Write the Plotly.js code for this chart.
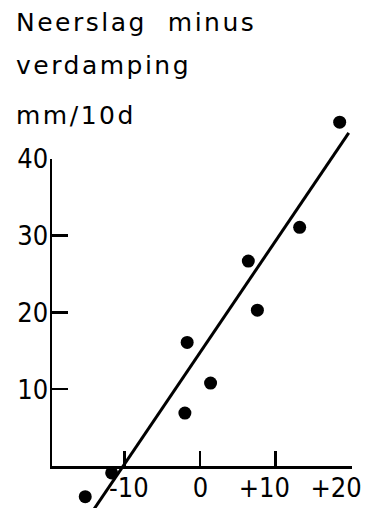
<!DOCTYPE html>
<html>
<head>
<meta charset="utf-8">
<script src="https://cdn.plot.ly/plotly-3.0.1.min.js"></script>
<style>
html,body{margin:0;padding:0;background:#fff;}
#chart{width:371px;height:508px;}
.annotation-text{letter-spacing:2.5px;}
</style>
</head>
<body>
<div id="chart"></div>
<script>
// Data
const xVals = [-15.2, -11.7, -2.0, -1.7, 1.4, 6.4, 7.6, 13.2, 18.5];
const yVals = [-4.0, -0.9, 6.9, 16.1, 10.8, 26.7, 20.3, 31.1, 44.8];
const fitX = [-14.3, 19.7];
const fitY = [-6.0, 43.4];
const xTickVals = [-10, 0, 10, 20];
const xTickText = ['\u00a0\u00a0\u00a0\u00a0\u00a0-10', '\u00a0\u00a0\u00a0\u00a00', '\u00a0+10', '+20'];
const yTickVals = [10, 20, 30, 40];
const yTickText = ['10', '20', '30', '40'];
const titleLines = ['Neerslag\u00a0\u00a0minus', 'verdamping', 'mm/10d'];

const W = 371, H = 508;
const PX = 7.675;   // px per y unit
const tickFont = {family: 'DejaVu Sans Condensed, DejaVu Sans, sans-serif', size: 27, color: '#000'};
const titleFont = {family: 'DejaVu Sans, sans-serif', size: 25, color: '#000'};

const traces = [
  {
    x: fitX, y: fitY, type: 'scatter', mode: 'lines',
    xaxis: 'x', yaxis: 'y',
    line: {color: '#000', width: 3},
    hoverinfo: 'skip'
  },
  {
    x: xVals, y: yVals, type: 'scatter', mode: 'markers',
    xaxis: 'x', yaxis: 'y',
    marker: {color: '#000', size: 13}
  },
  // empty trace so the visible 0–40 axis pair is drawn (on top)
  {x: [], y: [], type: 'scatter', mode: 'markers', xaxis: 'x', yaxis: 'y2', hoverinfo: 'skip'}
];

const titleY = [22, 65, 115];
const annotations = titleLines.map((t, i) => ({
  text: t, xref: 'paper', yref: 'paper',
  x: 14 / W, y: 1 - titleY[i] / H,
  xanchor: 'left', yanchor: 'middle',
  showarrow: false, font: titleFont
}));

const topPx = 466 - 40.02 * PX;

const layout = {
  width: W, height: H,
  margin: {l: 0, r: 0, t: 0, b: 0},
  paper_bgcolor: '#fff', plot_bgcolor: 'rgba(0,0,0,0)',
  showlegend: false,
  xaxis: {
    domain: [52 / W, 352 / W],
    range: [(52 - 200) / 7.55, (352 - 200) / 7.55],
    anchor: 'y2',
    showline: true, linecolor: '#000', linewidth: 2.5,
    showgrid: false, zeroline: false,
    ticks: 'inside', ticklen: 15, tickwidth: 2.5, tickcolor: '#000',
    tickmode: 'array', tickvals: xTickVals, ticktext: xTickText,
    tickfont: tickFont, ticklabelstandoff: -4, ticklabelshift: -15, ticklabeloverflow: 'allow'
  },
  yaxis: {
    domain: [0, 1],
    range: [-(H - 466) / PX, 466 / PX],
    anchor: 'x',
    visible: false, showgrid: false, zeroline: false
  },
  yaxis2: {
    domain: [(H - 466) / H, (H - topPx) / H],
    range: [0, 40.02],
    anchor: 'x',
    showline: true, linecolor: '#000', linewidth: 2.5,
    showgrid: false, zeroline: false,
    ticks: 'inside', ticklen: 16, tickwidth: 2.5, tickcolor: '#000',
    tickmode: 'array', tickvals: yTickVals, ticktext: yTickText,
    tickfont: tickFont, ticklabelstandoff: -4, ticklabeloverflow: 'allow'
  },
  annotations: annotations
};

Plotly.newPlot('chart', traces, layout, {staticPlot: true, displayModeBar: false});
</script>
</body>
</html>
